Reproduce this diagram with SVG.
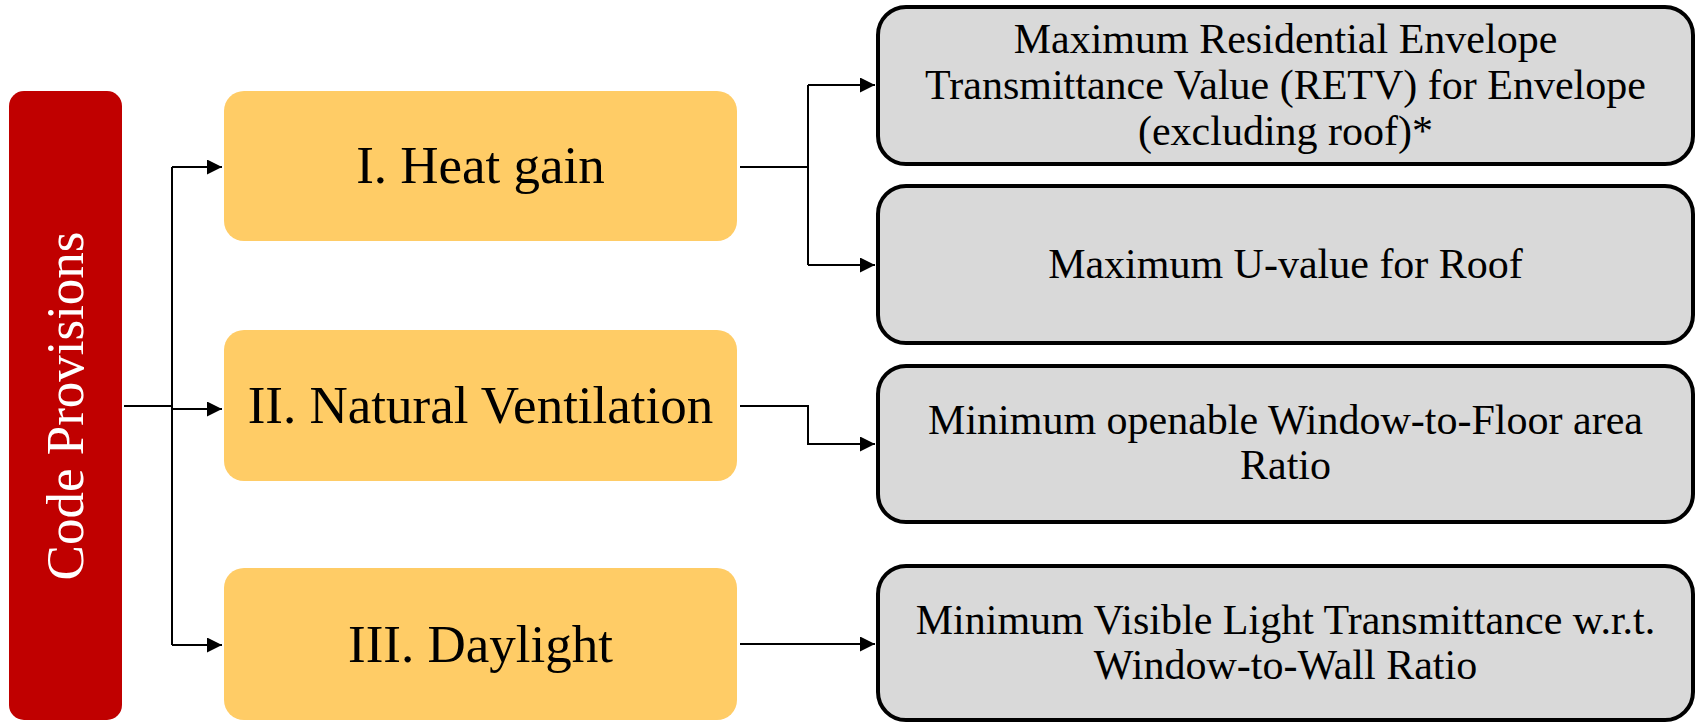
<svg xmlns="http://www.w3.org/2000/svg" width="1700" height="724" viewBox="0 0 1700 724">
  <style>
    text { font-family: "Liberation Serif", "Times New Roman", serif; text-anchor: middle; }
    .root { fill: #C00000; }
    .root-t { fill: #FFFFFF; font-size: 53px; }
    .cat { fill: #FFCC66; }
    .cat-t { fill: #000000; font-size: 53px; }
    .leaf { fill: #D9D9D9; stroke: #000000; stroke-width: 4; }
    .leaf-t { fill: #000000; font-size: 42px; }
    .conn { fill: none; stroke: #000000; stroke-width: 2; }
  </style>
  <defs>
    <marker id="arrow" viewBox="0 0 10 10" refX="10" refY="5" markerWidth="15" markerHeight="15" markerUnits="userSpaceOnUse" orient="auto">
      <path d="M0,0 L10,5 L0,10 z" fill="#000000"/>
    </marker>
  </defs>

  <g id="connectors">
    <path class="conn" d="M124,406 H172"/>
    <path class="conn" d="M172,167 V645"/>
    <path class="conn" d="M172,167 H222" marker-end="url(#arrow)"/>
    <path class="conn" d="M172,409 H222" marker-end="url(#arrow)"/>
    <path class="conn" d="M172,645 H222" marker-end="url(#arrow)"/>
    <path class="conn" d="M740,167 H808"/>
    <path class="conn" d="M808,85 V265"/>
    <path class="conn" d="M808,85 H875" marker-end="url(#arrow)"/>
    <path class="conn" d="M808,265 H875" marker-end="url(#arrow)"/>
    <path class="conn" d="M740,406 H808 V444 H875" marker-end="url(#arrow)"/>
    <path class="conn" d="M740,644 H875" marker-end="url(#arrow)"/>
  </g>

  <g id="code-provisions">
    <rect class="root" x="9" y="91" width="113" height="629" rx="15" ry="15"/>
    <text class="root-t" transform="translate(83,406) rotate(-90)" x="0" y="0">Code Provisions</text>
  </g>

  <g id="heat-gain">
    <rect class="cat" x="224" y="91" width="513" height="150" rx="20" ry="20"/>
    <text class="cat-t" x="480.5" y="183">I. Heat gain</text>
  </g>
  <g id="natural-ventilation">
    <rect class="cat" x="224" y="330" width="513" height="151" rx="20" ry="20"/>
    <text class="cat-t" x="480.5" y="423">II. Natural Ventilation</text>
  </g>
  <g id="daylight">
    <rect class="cat" x="224" y="568" width="513" height="152" rx="20" ry="20"/>
    <text class="cat-t" x="480.5" y="662">III. Daylight</text>
  </g>

  <g id="retv">
    <rect class="leaf" x="878" y="7" width="815" height="157" rx="28" ry="28"/>
    <text class="leaf-t" x="1285.5" y="53">Maximum Residential Envelope</text>
    <text class="leaf-t" x="1285.5" y="99">Transmittance Value (RETV) for Envelope</text>
    <text class="leaf-t" x="1285.5" y="145">(excluding roof)*</text>
  </g>
  <g id="u-value">
    <rect class="leaf" x="878" y="186" width="815" height="157" rx="28" ry="28"/>
    <text class="leaf-t" x="1285.5" y="278">Maximum U-value for Roof</text>
  </g>
  <g id="wfr">
    <rect class="leaf" x="878" y="366" width="815" height="156" rx="28" ry="28"/>
    <text class="leaf-t" x="1285.5" y="434">Minimum openable Window-to-Floor area</text>
    <text class="leaf-t" x="1285.5" y="479">Ratio</text>
  </g>
  <g id="vlt">
    <rect class="leaf" x="878" y="566" width="815" height="154" rx="28" ry="28"/>
    <text class="leaf-t" x="1285.5" y="634">Minimum Visible Light Transmittance w.r.t.</text>
    <text class="leaf-t" x="1285.5" y="679">Window-to-Wall Ratio</text>
  </g>
</svg>
